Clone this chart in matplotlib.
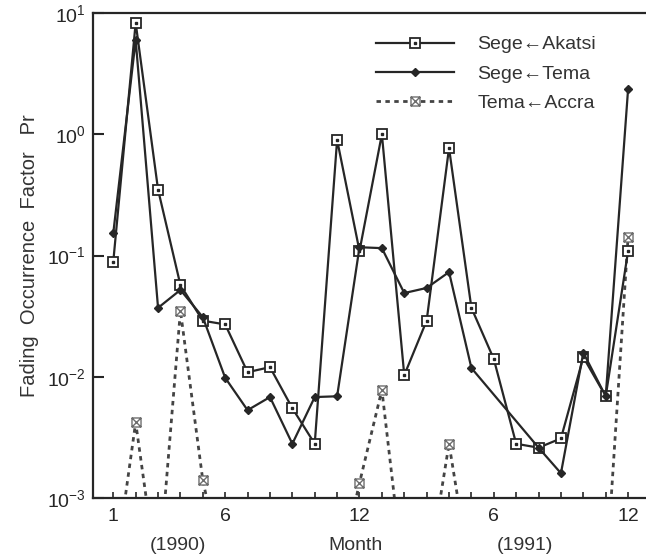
import numpy as np
import matplotlib
matplotlib.use("Agg")
import matplotlib.pyplot as plt
from matplotlib.path import Path
from matplotlib.legend_handler import HandlerTuple
from matplotlib.ticker import FixedLocator, FuncFormatter, NullLocator
import matplotlib.transforms as mtransforms

plt.rcParams['font.family'] = ['Liberation Sans', 'DejaVu Sans']
plt.rcParams['mathtext.default'] = 'regular'

# ---- data ----
months = list(range(1, 25))
tick_months = [1, 6, 12, 18, 24]
tick_labels = ["1", "6", "12", "6", "12"]
year_labels = ["(1990)", "Month", "(1991)"]
year_label_pos = [3.9, 11.8, 19.4]

sege_akatsi = [0.089, 8.3, 0.35, 0.057, 0.029, 0.027, 0.0109, 0.012, 0.0055, 0.0028,
               0.9, 0.109, 1.0, 0.0103, 0.029, 0.77, 0.037, 0.014, 0.0028, 0.0026,
               0.0031, 0.0145, 0.0069, 0.109]
sege_tema = [0.153, 6.0, 0.037, 0.052, 0.031, 0.0098, 0.0053, 0.0068, 0.0028, 0.0068,
             0.0069, 0.117, 0.115, 0.049, 0.054, 0.073, 0.0118, np.nan, np.nan, 0.0026,
             0.0016, 0.0158, 0.0069, 2.36]
tema_accra = [0, 0.0042, 0, 0.035, 0.0014, 0, 0, 0, 0, 0,
              0, 0.00133, 0.0078, 0, 0, 0.0028, 0, 0, 0, 0,
              0, 0, 0, 0.142]
zero_floor = 2e-4  # zero values drawn below the axis floor

# ---- figure ----
W, H = 646, 555
fig = plt.figure(figsize=(W / 100, H / 100), dpi=100)
ax = fig.add_axes([93 / W, 1 - 498 / H, 1 - 93 / W, (498 - 13) / H])

dark = '#262626'
gray = '#444444'

m = np.array(months, dtype=float)
a = np.array(sege_akatsi, dtype=float)
t = np.array(sege_tema, dtype=float)
c = np.array(tema_accra, dtype=float)

# Sege<-Akatsi
l1, = ax.plot(m, a, '-', color=dark, lw=1.6, marker='s', ms=7, mfc='white',
              mec=dark, mew=1.3, zorder=3)
d1, = ax.plot(m, a, linestyle='none', marker='s', ms=2, color=dark, zorder=4)

# Sege<-Tema (missing months connected)
ok = ~np.isnan(t)
l2, = ax.plot(m[ok], t[ok], '-', color=dark, lw=1.6, marker='D', ms=4.2,
              mfc=dark, mec=dark, zorder=3)

# Tema<-Accra
verts = [(-1, -1), (1, -1), (1, 1), (-1, 1), (-1, -1),
         (-1, -1), (1, 1), (-1, 1), (1, -1)]
codes = [Path.MOVETO, Path.LINETO, Path.LINETO, Path.LINETO, Path.CLOSEPOLY,
         Path.MOVETO, Path.LINETO, Path.MOVETO, Path.LINETO]
xbox = Path(verts, codes)
dash = (0, (1.6, 1.6))
c_plot = np.where(c > 0, c, zero_floor)
ax.plot(m, c_plot, linestyle=dash, color=gray, lw=2.0, zorder=2)
nz = c > 0
ax.plot(m[nz], c[nz], linestyle='none', marker=xbox, ms=6.5, mfc='white',
        mec='#6e6e6e', mew=1.0, zorder=3)
l3, = ax.plot([], [], linestyle=dash, color=gray, lw=2.0, marker=xbox,
              ms=6.5, mfc='white', mec='#6e6e6e', mew=1.0)

# ---- axes ----
ax.set_yscale('log')
ax.set_ylim(1e-3, 1e1)
ax.set_xlim(0.094, 24.8)
ax.yaxis.set_major_locator(FixedLocator([1e-3, 1e-2, 1e-1, 1e0, 1e1]))
ax.yaxis.set_minor_locator(NullLocator())
ax.yaxis.set_major_formatter(FuncFormatter(lambda v, p: r'$10^{%d}$' % int(round(np.log10(v)))))
ax.set_xticks(months)
ax.set_xticklabels([tick_labels[tick_months.index(mm)] if mm in tick_months else '' for mm in months])
ax.tick_params(axis='x', direction='in', length=4, width=1.2, pad=7, labelsize=14, colors=dark)
ax.tick_params(axis='y', direction='in', length=8, width=1.5, pad=5, labelsize=14, colors=dark)
for s in ['left', 'bottom', 'top']:
    ax.spines[s].set_linewidth(1.6)
    ax.spines[s].set_color(dark)
ax.spines['right'].set_visible(False)

ax.set_ylabel('Fading  Occurrence  Factor   Pr', fontsize=14.5, color='#333333', labelpad=6)

trans = mtransforms.blended_transform_factory(ax.transData, ax.transAxes)
for lab, xp in zip(year_labels, year_label_pos):
    ax.text(xp, -0.097, lab, transform=trans, ha='center', va='center',
            fontsize=14, color='#333333')

leg = ax.legend([(l1, d1), l2, l3],
                ['Sege\u2190Akatsi', 'Sege\u2190Tema', 'Tema\u2190Accra'],
                handler_map={tuple: HandlerTuple(ndivide=1)},
                loc='upper left', bbox_to_anchor=((375 - 93) / (W - 93) - 0.012, 1 - (28 - 13) / 485),
                frameon=False, fontsize=14, handlelength=4.0, handletextpad=1.2,
                labelspacing=0.6, numpoints=1, borderaxespad=0)
for txt in leg.get_texts():
    txt.set_color('#333333')

fig.savefig('out.png', dpi=100)
